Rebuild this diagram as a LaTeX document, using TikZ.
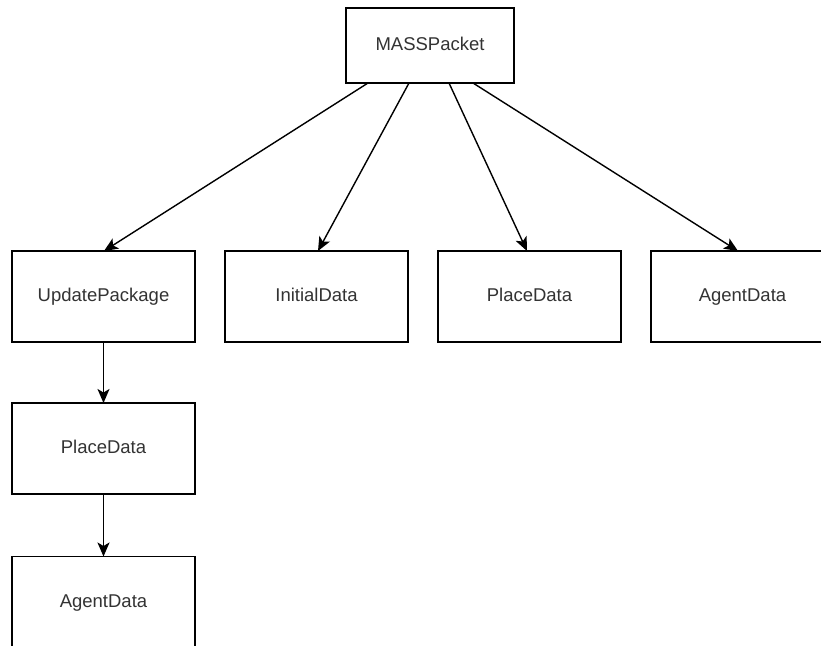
\documentclass[tikz,border=0pt]{standalone}
\usepackage{fontspec}
\setmainfont{Liberation Sans}
\usetikzlibrary{arrows.meta}
\definecolor{txt}{HTML}{333333}
\tikzset{
  box/.style={draw=black, line width=1.4pt, fill=white, inner sep=0pt, outer sep=0pt,
    minimum width=183pt, minimum height=91pt, text=txt,
    text height=13.5pt, text depth=3.5pt,
    font=\fontsize{18.5}{22}\selectfont},
  arr/.style={draw=black, line width=1.4pt, -{Stealth[length=14pt,width=12pt,inset=3.5pt]}}
}
\begin{document}
\begin{tikzpicture}[x=1pt,y=-1pt]
  \useasboundingbox (0,0) rectangle (821,645);
  \clip (0,0) rectangle (821,645);
  % root
  \node[box, minimum width=168pt, minimum height=75pt] (mp) at (430,45.5) {MASSPacket};
  % first level
  \node[box] (up)   at (103.5,296.5) {UpdatePackage};
  \node[box] (init) at (316.5,296.5) {InitialData};
  \node[box] (pd)   at (529.5,296.5) {PlaceData};
  \node[box] (ad)   at (742.5,296.5) {AgentData};
  % chain below UpdatePackage
  \node[box] (pd2)  at (103.5,448.5) {PlaceData};
  \node[box] (ad2)  at (103.5,602) {AgentData};
  % connectors
  \draw[arr] ([xshift=-62pt]mp.south) -- ([xshift=0.5pt]up.north);
  \draw[arr] ([xshift=-21pt]mp.south) -- ([xshift=1.5pt]init.north);
  \draw[arr] ([xshift=19pt]mp.south) -- ([xshift=-2.5pt]pd.north);
  \draw[arr] ([xshift=43pt]mp.south) -- ([xshift=-4.5pt]ad.north);
  \draw[arr] (up.south) -- (pd2.north);
  \draw[arr] (pd2.south) -- (ad2.north);
\end{tikzpicture}
\end{document}
